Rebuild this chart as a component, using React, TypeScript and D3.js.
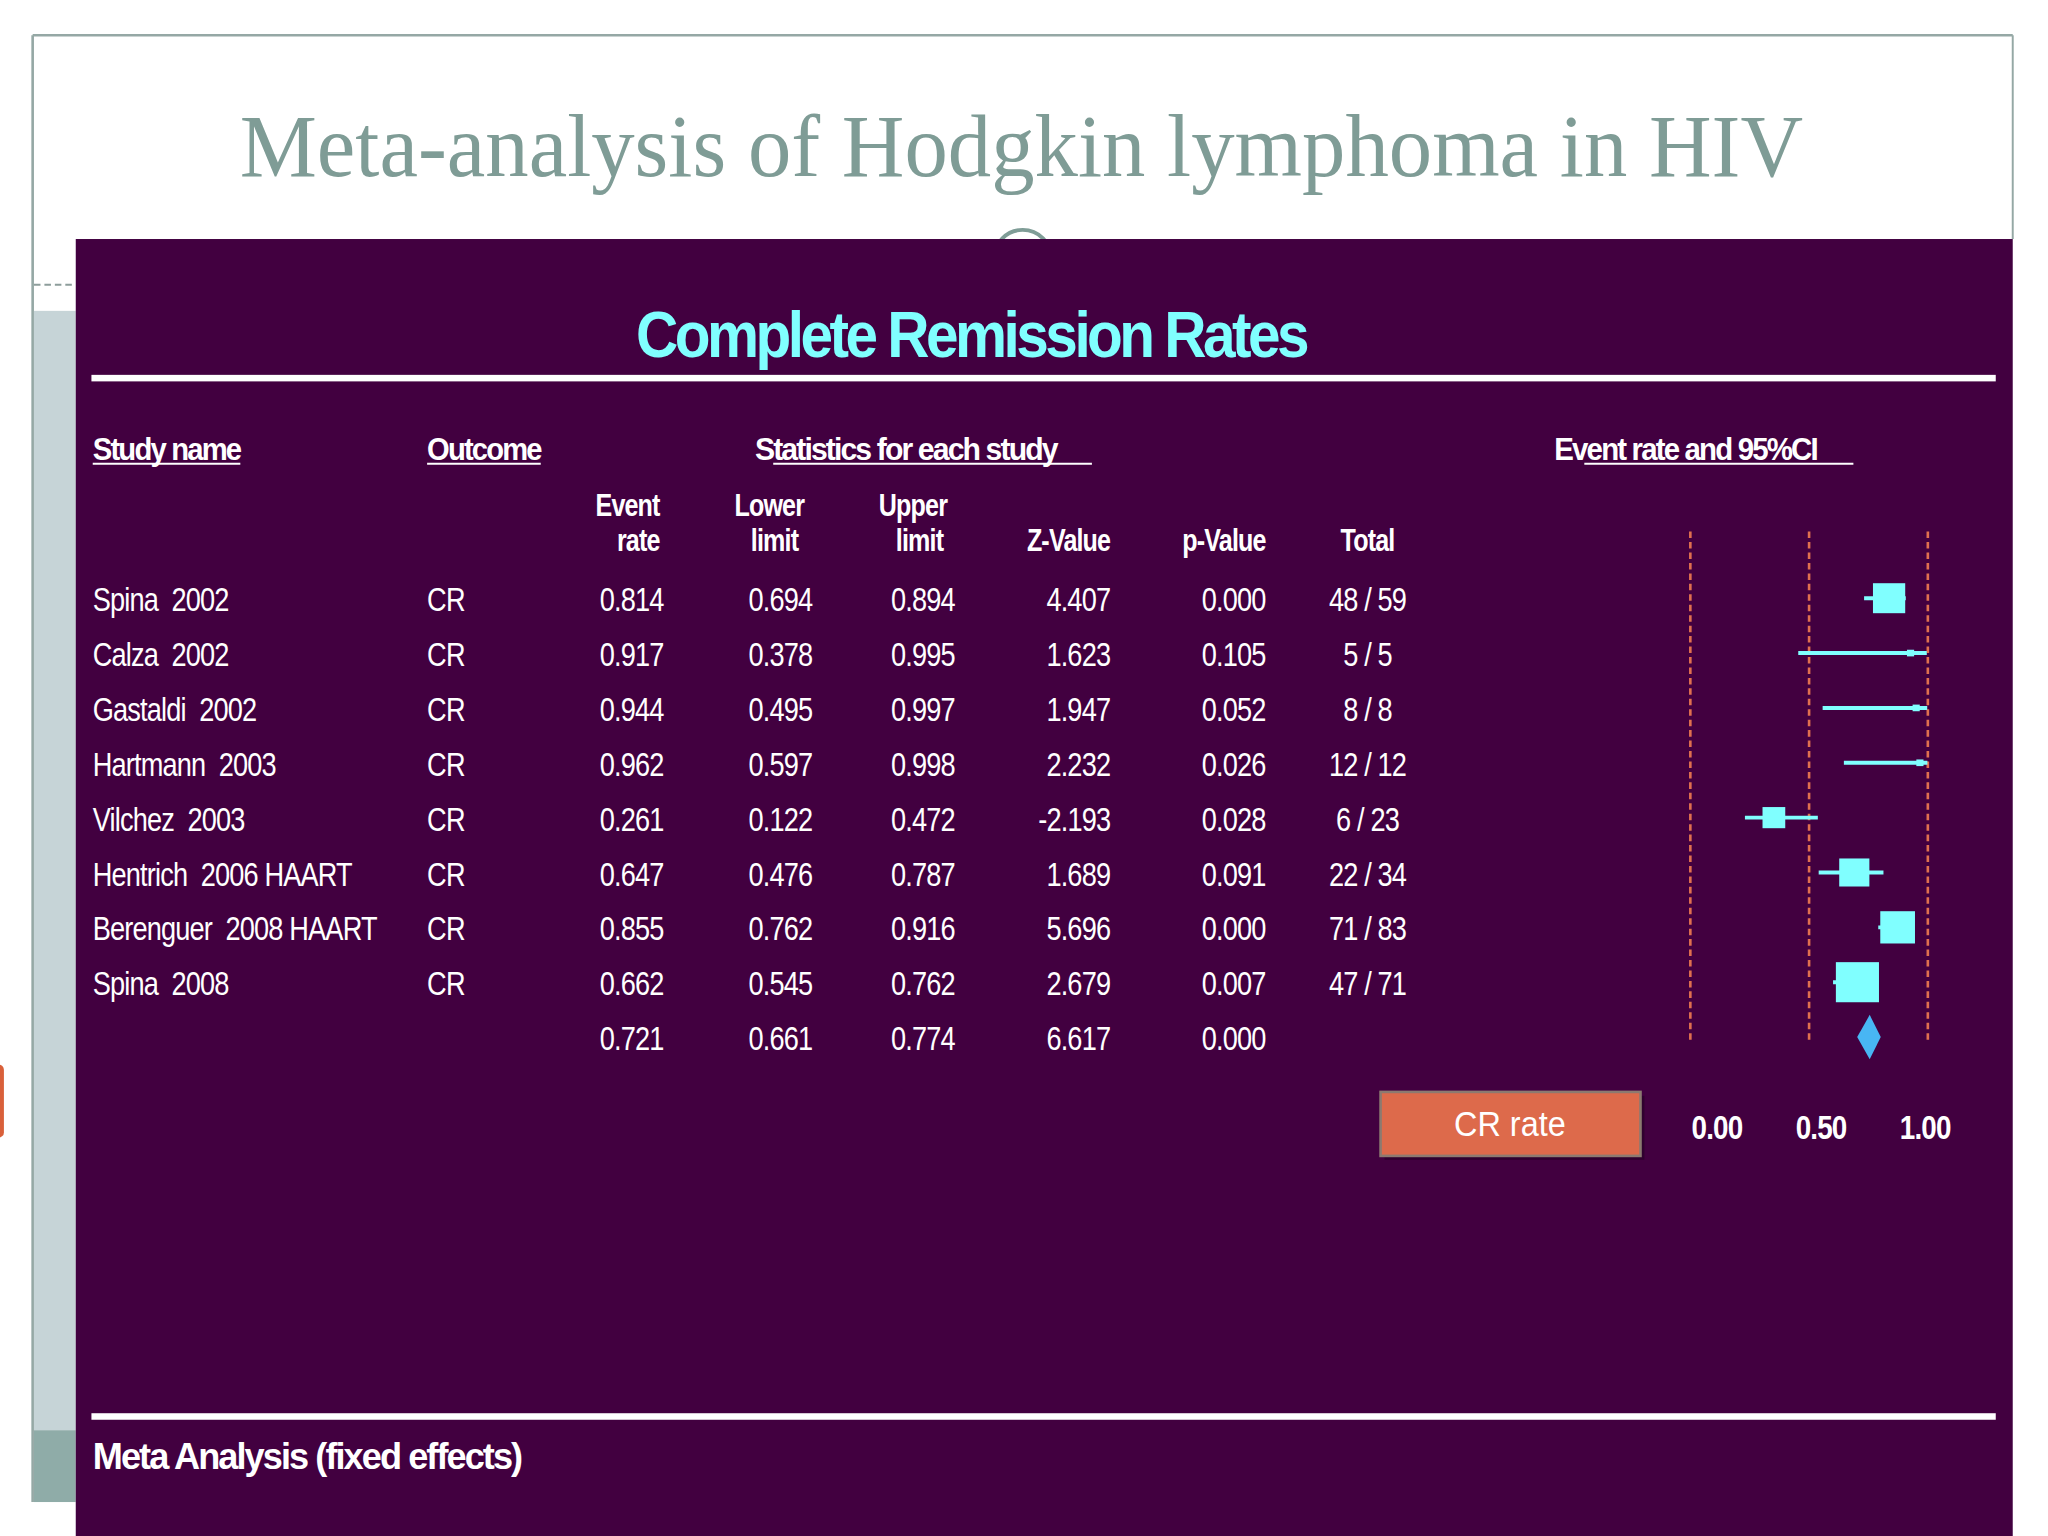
import * as d3 from "d3";

// slide drawn in a 1568x1176 user space, scaled up to 2048x1536
const W = 1568;
const H = 1176;

const studies = [
  "Spina  2002",
  "Calza  2002",
  "Gastaldi  2002",
  "Hartmann  2003",
  "Vilchez  2003",
  "Hentrich  2006 HAART",
  "Berenguer  2008 HAART",
  "Spina  2008",
];
const outcomes = ["CR", "CR", "CR", "CR", "CR", "CR", "CR", "CR"];
const eventRate = [0.814, 0.917, 0.944, 0.962, 0.261, 0.647, 0.855, 0.662];
const lowerLimit = [0.694, 0.378, 0.495, 0.597, 0.122, 0.476, 0.762, 0.545];
const upperLimit = [0.894, 0.995, 0.997, 0.998, 0.472, 0.787, 0.916, 0.762];
const zValue = [4.407, 1.623, 1.947, 2.232, -2.193, 1.689, 5.696, 2.679];
const pValue = [0.0, 0.105, 0.052, 0.026, 0.028, 0.091, 0.0, 0.007];
const events = [48, 5, 8, 12, 6, 22, 71, 47];
const totals = [59, 5, 8, 12, 23, 34, 83, 71];
const relWeight = [18.3, 0.9, 0.9, 0.9, 9.1, 16.0, 21.2, 32.7];

const summaryRate = 0.721;
const summaryLower = 0.661;
const summaryUpper = 0.774;
const summaryZ = 6.617;
const summaryP = 0.0;

const axisTicks = [0, 0.5, 1];
const refLines = [-0.14, 0.43, 1.0];

const PURPLE = "#420040";
const CYAN = "#80ffff";
const ORANGE = "#e0704f";
const FONT = "'Liberation Sans', Arial, sans-serif";

// condensed text: horizontal squeeze like the original narrow font
const T = ({
  x,
  y,
  children,
  anchor = "start",
  size = 26,
  sx = 0.8,
  bold = false,
  fill = "#fff",
  ls = -0.8,
}: {
  x: number;
  y: number;
  children: any;
  anchor?: string;
  size?: number;
  sx?: number;
  bold?: boolean;
  fill?: string;
  ls?: number;
}) => (
  <text
    transform={`translate(${x},${y}) scale(${sx},1)`}
    textAnchor={anchor}
    fontFamily={FONT}
    fontSize={size}
    fontWeight={bold ? "bold" : "normal"}
    letterSpacing={ls}
    fill={fill}
    style={{ whiteSpace: "pre" }}
  >
    {children}
  </text>
);

export default function App() {
  const rowY = d3
    .scaleLinear()
    .domain([0, studies.length])
    .range([458, 458 + 42 * studies.length]);
  const x = d3.scaleLinear().domain([0, 1]).range([1316.5, 1476]);
  const boxSide = d3.scaleSqrt().domain([0, d3.max(relWeight)!]).range([0, 33]);

  const cols = {
    rate: 508,
    lower: 622,
    upper: 731,
    z: 850,
    p: 969,
    total: 1047,
  };
  const fmt = (v: number) => v.toFixed(3);
  const sumY = rowY(studies.length);

  return (
    <div style={{ position: "absolute", left: 0, top: 0 }}>
      <svg
        width={2048}
        height={1536}
        viewBox={`0 0 ${W} ${H}`}
        style={{ display: "block", background: "#fff" }}
      >
        {/* slide frame */}
        <line x1={25} x2={1541} y1={27} y2={27} stroke="#95a8a5" strokeWidth={2} />
        <line x1={25} x2={25} y1={27} y2={1150} stroke="#95a8a5" strokeWidth={2} />
        <line x1={1541} x2={1541} y1={27} y2={183} stroke="#95a8a5" strokeWidth={1.5} />
        <rect x={26} y={238} width={32} height={857} fill="#c6d4d7" />
        <rect x={26} y={1095} width={32} height={55} fill="#8faca8" />
        <line x1={26} x2={58} y1={218} y2={218} stroke="#8d9d9b" strokeWidth={1.5} strokeDasharray="5,3" />
        <rect x={-8} y={815} width={11} height={56} rx={4} fill="#d9603a" />
        <circle cx={783} cy={198} r={22} fill="none" stroke="#7f9d97" strokeWidth={3} />

        <text
          x={782}
          y={135}
          textAnchor="middle"
          fontFamily="'Liberation Serif', 'DejaVu Serif', serif"
          fontSize={68}
          fill="#7f9c96"
          textLength={1197}
          lengthAdjust="spacingAndGlyphs"
        >
          Meta-analysis of Hodgkin lymphoma in HIV
        </text>

        {/* purple panel */}
        <rect x={58} y={183} width={1483} height={H - 183} fill={PURPLE} />

        <text
          x={487}
          y={273}
          fontFamily={FONT}
          fontWeight="bold"
          fontSize={50}
          letterSpacing={-3}
          fill={CYAN}
          textLength={513}
          lengthAdjust="spacingAndGlyphs"
        >
          Complete Remission Rates
        </text>
        <rect x={70} y={287} width={1458} height={5} fill="#fff" />
        <rect x={70} y={1082} width={1458} height={5} fill="#fff" />
        <text
          x={71}
          y={1125}
          fontFamily={FONT}
          fontWeight="bold"
          fontSize={28}
          letterSpacing={-1.5}
          fill="#fff"
          textLength={328}
          lengthAdjust="spacingAndGlyphs"
        >
          Meta Analysis (fixed effects)
        </text>

        {/* group headers */}
        {[
          { t: "Study name", x: 71, w: 113, u: [71, 184] },
          { t: "Outcome", x: 327, w: 87, u: [327, 414] },
          { t: "Statistics for each study", x: 578, w: 231, u: [592, 836] },
          { t: "Event rate and 95%CI", x: 1190, w: 201, u: [1213, 1419] },
        ].map((h) => (
          <g key={h.t}>
            <text
              x={h.x}
              y={352}
              fontFamily={FONT}
              fontWeight="bold"
              fontSize={24}
              letterSpacing={-1.5}
              fill="#fff"
              textLength={h.w}
              lengthAdjust="spacingAndGlyphs"
            >
              {h.t}
            </text>
            <line x1={h.u[0]} x2={h.u[1]} y1={355} y2={355} stroke="#fff" strokeWidth={1.5} />
          </g>
        ))}

        {/* column headers */}
        <T x={505} y={395} anchor="end" bold size={24}>Event</T>
        <T x={505} y={422} anchor="end" bold size={24}>rate</T>
        <T x={589} y={395} anchor="middle" bold size={24}>Lower</T>
        <T x={593} y={422} anchor="middle" bold size={24}>limit</T>
        <T x={699} y={395} anchor="middle" bold size={24}>Upper</T>
        <T x={704} y={422} anchor="middle" bold size={24}>limit</T>
        <T x={850} y={422} anchor="end" bold size={24}>Z-Value</T>
        <T x={969} y={422} anchor="end" bold size={24}>p-Value</T>
        <T x={1047} y={422} anchor="middle" bold size={24}>Total</T>

        {/* study rows */}
        {studies.map((s, i) => {
          const y = rowY(i) + 10;
          return (
            <g key={s}>
              <T x={71} y={y}>{s}</T>
              <T x={327} y={y}>{outcomes[i]}</T>
              <T x={cols.rate} y={y} anchor="end">{fmt(eventRate[i])}</T>
              <T x={cols.lower} y={y} anchor="end">{fmt(lowerLimit[i])}</T>
              <T x={cols.upper} y={y} anchor="end">{fmt(upperLimit[i])}</T>
              <T x={cols.z} y={y} anchor="end">{fmt(zValue[i])}</T>
              <T x={cols.p} y={y} anchor="end">{fmt(pValue[i])}</T>
              <T x={cols.total} y={y} anchor="middle">{`${events[i]} / ${totals[i]}`}</T>
            </g>
          );
        })}
        <g>
          <T x={cols.rate} y={sumY + 10} anchor="end">{fmt(summaryRate)}</T>
          <T x={cols.lower} y={sumY + 10} anchor="end">{fmt(summaryLower)}</T>
          <T x={cols.upper} y={sumY + 10} anchor="end">{fmt(summaryUpper)}</T>
          <T x={cols.z} y={sumY + 10} anchor="end">{fmt(summaryZ)}</T>
          <T x={cols.p} y={sumY + 10} anchor="end">{fmt(summaryP)}</T>
        </g>

        {/* forest plot */}
        {refLines.map((v) => (
          <line
            key={v}
            x1={x(v)}
            x2={x(v)}
            y1={407}
            y2={797}
            stroke={ORANGE}
            strokeWidth={2}
            strokeDasharray="5,3"
          />
        ))}
        {studies.map((s, i) => {
          const cy = rowY(i);
          const side = Math.max(5, boxSide(relWeight[i]));
          const h = side * 0.93;
          return (
            <g key={s} fill={CYAN}>
              <line
                x1={x(lowerLimit[i])}
                x2={x(upperLimit[i])}
                y1={cy}
                y2={cy}
                stroke={CYAN}
                strokeWidth={3}
              />
              <rect x={x(eventRate[i]) - side / 2} y={cy - h / 2} width={side} height={h} />
            </g>
          );
        })}
        <path
          d={`M${x(summaryLower)},${sumY} L${x(summaryRate)},${sumY - 17} L${x(summaryUpper)},${sumY} L${x(summaryRate)},${sumY + 17} Z`}
          fill="#48b6f4"
        />

        {/* legend button */}
        <rect x={1060} y={839} width={199} height={49} fill="#2a0028" opacity={0.7} />
        <rect x={1057} y={836} width={199} height={49} fill="#dd6a4b" stroke="#8c7a70" strokeWidth={2} />
        <T x={1156} y={870} anchor="middle" size={27} sx={0.92} ls={0}>CR rate</T>

        {axisTicks.map((v) => (
          <T key={v} x={x(v) - 2} y={872} anchor="middle" bold size={26} sx={0.82}>
            {v.toFixed(2)}
          </T>
        ))}
      </svg>
    </div>
  );
}
